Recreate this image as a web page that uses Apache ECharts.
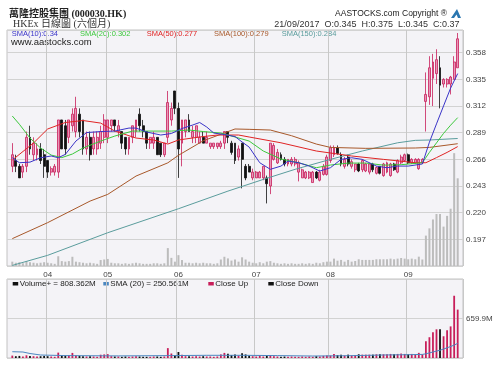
<!DOCTYPE html>
<html><head><meta charset="utf-8">
<script src="https://cdn.jsdelivr.net/npm/echarts@6/dist/echarts.min.js"></script>
<style>html,body{margin:0;padding:0;background:#fff}#c{width:500px;height:373px}</style>
</head><body><div id="c"></div>
<script>
// trading days (MM-DD), 20 Mar 2017 - 21 Sep 2017
const dates = [
'03-20','03-21','03-22','03-23','03-24','03-27','03-28','03-29','03-30','03-31',
'04-03','04-05','04-06','04-07','04-10','04-11','04-12','04-13','04-18','04-19','04-20','04-21','04-24','04-25','04-26','04-27','04-28',
'05-02','05-04','05-05','05-08','05-09','05-10','05-11','05-12','05-15','05-16','05-17','05-18','05-19','05-22','05-23','05-24','05-25','05-26','05-29','05-31',
'06-01','06-02','06-05','06-06','06-07','06-08','06-09','06-12','06-13','06-14','06-15','06-16','06-19','06-20','06-21','06-22','06-23','06-26','06-27','06-28','06-29','06-30',
'07-03','07-04','07-05','07-06','07-07','07-10','07-11','07-12','07-13','07-14','07-17','07-18','07-19','07-20','07-21','07-24','07-25','07-26','07-27','07-28','07-31',
'08-01','08-02','08-03','08-04','08-07','08-08','08-09','08-10','08-11','08-14','08-15','08-16','08-17','08-18','08-21','08-22','08-24','08-25','08-28','08-29','08-30','08-31',
'09-01','09-04','09-05','09-06','09-07','09-08','09-11','09-12','09-13','09-14','09-15','09-18','09-19','09-20','09-21'];

const open = [
.260,.265,.260,.255,.260,.285,.270,.270,.275,.270,
.265,.255,.255,.255,.300,.295,.285,.295,.290,.305,.300,.275,.285,.275,.275,.280,.285,
.285,.295,.300,.290,.290,.285,.275,.285,.290,.305,.295,.290,.280,.280,.285,.280,.270,.285,.300,.325,
.310,.280,.290,.300,.285,.285,.280,.285,.280,.277,.277,.277,.277,.280,.290,.280,.280,.268,.280,.260,.260,
.250,.250,.250,.250,.250,.243,.266,.263,.270,.266,.262,.262,.262,.255,.250,.250,.250,.246,.255,.248,.253,.253,
.265,.270,.276,.270,.260,.268,.260,.257,.262,.257,.256,.255,.262,.254,.260,.252,.255,.252,.262,.255,.263,.265,
.270,.263,.263,.258,.263,.316,.320,.336,.340,.345,.331,.331,.331,.335,.345];
const high = [
.280,.270,.262,.262,.290,.295,.285,.280,.280,.275,
.265,.260,.262,.300,.300,.300,.300,.310,.320,.310,.300,.290,.290,.290,.290,.295,.305,
.300,.300,.300,.300,.290,.285,.285,.295,.300,.310,.300,.290,.285,.290,.285,.280,.280,.325,.315,.325,
.315,.300,.300,.305,.295,.295,.290,.290,.290,.280,.280,.280,.282,.290,.290,.282,.280,.278,.280,.262,.262,
.258,.256,.256,.260,.252,.280,.280,.275,.272,.268,.266,.268,.268,.265,.258,.256,.256,.256,.256,.257,.262,.270,
.278,.278,.278,.272,.268,.270,.266,.262,.263,.266,.263,.263,.263,.260,.260,.263,.264,.263,.263,.266,.270,.271,
.271,.267,.267,.267,.267,.341,.355,.357,.361,.355,.336,.336,.338,.355,.375];
const low = [
.255,.255,.250,.250,.255,.270,.265,.265,.262,.250,
.250,.252,.252,.250,.275,.270,.280,.290,.285,.285,.270,.270,.265,.270,.270,.275,.280,
.280,.290,.290,.285,.275,.270,.270,.280,.285,.290,.285,.275,.275,.275,.270,.268,.268,.280,.295,.305,
.250,.260,.285,.290,.280,.280,.280,.280,.280,.275,.275,.275,.275,.275,.280,.270,.262,.265,.241,.248,.255,
.248,.250,.250,.248,.228,.236,.265,.262,.265,.260,.260,.260,.260,.247,.250,.249,.249,.246,.249,.247,.252,.252,
.263,.268,.270,.260,.258,.260,.258,.255,.255,.255,.255,.253,.255,.253,.253,.251,.254,.251,.256,.254,.262,.264,
.262,.262,.262,.257,.262,.290,.313,.312,.331,.310,.328,.328,.322,.335,.345];
const close = [
.270,.260,.250,.260,.285,.275,.280,.275,.265,.260,
.255,.258,.260,.300,.275,.275,.300,.305,.310,.290,.275,.285,.270,.285,.285,.290,.300,
.300,.300,.295,.295,.280,.275,.285,.295,.300,.295,.290,.280,.285,.285,.270,.270,.280,.315,.310,.310,
.275,.300,.300,.290,.290,.295,.285,.280,.285,.280,.280,.280,.280,.290,.285,.272,.265,.275,.266,.250,.255,
.255,.255,.255,.260,.245,.280,.278,.272,.266,.262,.266,.266,.266,.263,.257,.255,.255,.255,.250,.255,.260,.268,
.276,.276,.271,.262,.266,.262,.264,.262,.256,.265,.262,.262,.257,.259,.254,.262,.263,.262,.257,.265,.268,.270,
.263,.266,.266,.266,.266,.322,.345,.350,.352,.330,.335,.335,.337,.350,.370];
// volume in millions of shares
const volume = [
40,30,35,25,45,35,30,25,30,35,
30,25,20,90,45,40,45,85,40,35,30,25,30,25,20,55,60,
65,30,25,25,20,25,20,25,30,25,20,20,20,25,25,20,25,165,75,40,
100,55,30,30,25,30,25,30,25,25,20,25,60,85,70,50,60,40,80,60,40,
30,25,35,25,40,45,30,25,20,25,20,25,20,20,25,20,25,20,30,25,35,40,
40,68,49,56,40,56,40,46,62,56,56,56,56,62,62,62,62,68,62,68,74,68,62,68,62,86,
60,280,347,429,479,479,363,462,528,1040,808.362];

// moving averages: [day index, value]
const sma10 = [[0,.2674],[2,.2631],[5,.2636],[8,.2674],[11,.2689],[13,.2674],[15,.2703],[18,.2818],[21,.2891],[25,.2900],[29,.2904],[33,.2930],[35,.2930],[38,.2896],[42,.2870],[45,.2883],[48,.2926],[51,.2956],[53,.2978],[55,.2939],[57,.2887],[60,.2874],[63,.2857],[65,.2810],[67,.2766],[70,.2631],[73,.2574],[76,.2602],[78,.2645],[81,.2631],[84,.2602],[87,.2559],[90,.2588],[93,.2660],[96,.2674],[99,.2660],[103,.2602],[106,.2588],[109,.2602],[112,.2602],[116,.2620],[118,.2808],[120,.2966],[122,.3121],[124,.3275],[126,.3400]];
const sma20 = [[0,.3034],[2,.2963],[5,.2844],[8,.2758],[11,.2697],[14,.2675],[17,.2706],[20,.2758],[25,.2818],[29,.2861],[34,.2904],[40,.2904],[45,.2904],[50,.2913],[54,.2900],[59,.2887],[63,.2853],[67,.2818],[71,.2732],[76,.2663],[81,.2631],[86,.2588],[90,.2611],[95,.2628],[100,.2628],[105,.2610],[110,.2614],[116,.2631],[118,.2720],[120,.2802],[122,.2884],[124,.2955],[126,.3020]];
const sma50 = [[0,.2654],[6,.2801],[10,.2922],[15,.2978],[20,.2995],[25,.2973],[29,.2904],[35,.2844],[40,.2827],[44,.2792],[47,.2827],[53,.2853],[58,.2870],[64,.2870],[67,.2853],[76,.2803],[86,.2732],[96,.2689],[105,.2660],[114,.2631],[117,.2631],[120,.2675],[123,.2720],[126,.2770]];
const sma100 = [[0,.1976],[10,.2114],[22,.2300],[27,.2358],[35,.2516],[44,.2630],[47,.2695],[54,.2820],[63,.2922],[67,.2919],[73,.2913],[79,.2864],[86,.2792],[90,.2763],[100,.2755],[114,.2758],[118,.2763],[126,.2795]];
const sma150 = [[0,.1745],[10,.1832],[27,.2027],[47,.2234],[61,.2386],[71,.2487],[80,.2574],[90,.2660],[99,.2732],[109,.2803],[114,.2824],[118,.2827],[126,.2840]];
const volSma20 = [[0,105],[3,100],[5,75],[8,50],[15,40],[30,35],[45,40],[55,45],[65,45],[75,40],[85,33],[95,38],[105,50],[112,55],[116,60],[117,70],[119,100],[121,130],[123,170],[125,215],[126,245]];

const smaLegend = ['SMA(10):0.34','SMA(20):0.302','SMA(50):0.277','SMA(100):0.279','SMA(150):0.284'];
const volLegend = ['Volume+ = 808.362M','SMA (20) = 250.561M','Close Up','Close Down'];
const titleText = '萬隆控股集團 (000030.HK)';
const subTitle = 'HKEx 日線圖 (六個月)';
const quoteText = '21/09/2017  O:0.345  H:0.375  L:0.345  C:0.37';
const volTickLabel = '659.9M';

const smaColors = ['#3a34c8','#3cc83c','#e02424','#a8582a','#5a9c9c'];
const upColor = '#c81e5a', upFill = '#e896b8', downColor = '#111';

// padded category axis (one empty slot on each side)
const cats = [''].concat(dates, ['']);
const pad = arr => ['-'].concat(arr, ['-']);
const shift = pairs => pairs.map(p => [p[0] + 1, p[1]]);
const isMonthStart = idx => idx >= 2 && idx <= dates.length && dates[idx-1].slice(0,2) !== dates[idx-2].slice(0,2);

const candleData = pad(dates.map((d,i) => [open[i], close[i], low[i], high[i]]));
const volMain = pad(volume);
const volPanel = pad(volume.map((v,i) => ({value: v, itemStyle: {color: close[i] >= open[i] ? upColor : downColor}})));

const font = "'Liberation Sans', Arial, sans-serif";
const gridLine = {lineStyle: {color: '#d2d2d2', width: 1}};

const chart = echarts.init(document.getElementById('c'), null, {renderer: 'canvas'});

const graphics = [
  {type: 'text', style: {text: titleText, x: 9, y: 14.5, verticalAlign: 'middle', fill: '#222', font: "bold 10px 'Liberation Serif', 'Noto Sans CJK TC', serif"}},
  {type: 'text', style: {text: subTitle, x: 13, y: 24.5, verticalAlign: 'middle', fill: '#333', font: "10px 'Liberation Serif', 'Noto Sans CJK TC', serif"}},
  {type: 'text', style: {text: 'AASTOCKS.com Copyright ®', x: 447, y: 14, align: 'right', verticalAlign: 'middle', fill: '#222', font: '8.5px ' + font}},
  {type: 'polygon', shape: {points: [[451,18],[457,9],[461,18],[458,18],[456.5,14.5],[454,18]]}, style: {fill: '#2b77b0'}},
  {type: 'text', style: {text: quoteText, x: 459.5, y: 24.7, align: 'right', verticalAlign: 'middle', fill: '#333', font: '9px ' + font}},
  {type: 'text', style: {text: 'www.aastocks.com', x: 11, y: 42.5, verticalAlign: 'middle', fill: '#222', font: '9.5px ' + font}}
];
const smaX = [11.7, 80, 146.7, 214, 281.7];
smaLegend.forEach((t,k) => graphics.push({type: 'text', style: {text: t, x: smaX[k], y: 33.5, verticalAlign: 'middle', fill: smaColors[k], font: '7.5px ' + font}}));
const volLegX = [12.7, 103.3, 208.3, 268.3];
const volLegC = ['#111', '#4a86c0', upColor, '#111'];
volLegend.forEach((t,k) => {
  graphics.push({type: 'rect', shape: {x: volLegX[k], y: 282, width: 5.5, height: 3.5}, style: {fill: volLegC[k]}});
  graphics.push({type: 'text', style: {text: t, x: volLegX[k] + 7, y: 283.8, verticalAlign: 'middle', fill: '#222', font: '8px ' + font}});
});

const line = (name, data, color, xi, yi) => ({
  type: 'line', name, data: shift(data), xAxisIndex: xi, yAxisIndex: yi,
  showSymbol: false, symbol: 'none', smooth: false, clip: true, connectNulls: true,
  lineStyle: {color, width: 1}, z: 4, silent: true
});

chart.setOption({
  animation: false,
  backgroundColor: '#fff',
  grid: [
    {left: 7, top: 30, width: 456, height: 236, show: true, backgroundColor: '#f4f3f7', borderColor: '#c2c2c2', borderWidth: 1},
    {left: 7, top: 279, width: 456, height: 79, show: true, backgroundColor: '#f4f3f7', borderColor: '#c2c2c2', borderWidth: 1}
  ],
  xAxis: [
    {type: 'category', data: cats, gridIndex: 0, boundaryGap: true,
     axisLine: {show: false}, axisTick: {show: false},
     axisLabel: {interval: (i) => isMonthStart(i), formatter: v => v.slice(0,2), fontSize: 8, color: '#444', margin: 5, fontFamily: font},
     splitLine: {show: true, interval: (i) => isMonthStart(i), lineStyle: {color: '#c8c8c8', width: 1}}},
    {type: 'category', data: cats, gridIndex: 1, boundaryGap: true,
     axisLine: {show: false}, axisTick: {show: false}, axisLabel: {show: false},
     splitLine: {show: true, interval: (i) => isMonthStart(i), lineStyle: {color: '#c8c8c8', width: 1}}}
  ],
  yAxis: [
    {type: 'value', gridIndex: 0, position: 'right', min: 0.174, max: 0.3776, interval: 0.023, scale: true,
     axisLine: {show: false}, axisTick: {show: false}, splitLine: gridLine,
     axisLabel: {formatter: v => (v > 0.19 && v < 0.36) ? v.toFixed(3) : '', fontSize: 8, color: '#444', margin: 3, fontFamily: font}},
    {type: 'value', gridIndex: 0, min: 0, max: 2175, show: false, splitLine: {show: false}},
    {type: 'value', gridIndex: 1, position: 'right', min: 0, max: 1319.8, interval: 659.9,
     axisLine: {show: false}, axisTick: {show: false}, splitLine: gridLine,
     axisLabel: {formatter: v => Math.abs(v - 659.9) < 1 ? volTickLabel : '', fontSize: 8, color: '#444', margin: 3, fontFamily: font}}
  ],
  series: [
    {type: 'bar', name: 'volOverlay', data: volMain, xAxisIndex: 0, yAxisIndex: 1, barWidth: 2, itemStyle: {color: '#bcbcbc'}, z: 1, silent: true},
    {type: 'candlestick', name: 'price', data: candleData, xAxisIndex: 0, yAxisIndex: 0, barWidth: 2.4, z: 3, silent: true,
     itemStyle: {color: upFill, borderColor: upColor, color0: downColor, borderColor0: downColor, borderWidth: 0.8}},
    line('SMA150', sma150, smaColors[4], 0, 0),
    line('SMA100', sma100, smaColors[3], 0, 0),
    line('SMA50', sma50, smaColors[2], 0, 0),
    line('SMA20', sma20, smaColors[1], 0, 0),
    line('SMA10', sma10, smaColors[0], 0, 0),
    {type: 'bar', name: 'volume', data: volPanel, xAxisIndex: 1, yAxisIndex: 2, barWidth: 1.8, z: 2, silent: true},
    line('volSMA20', volSma20, '#4a86c0', 1, 2)
  ],
  graphic: graphics
});
</script></body></html>
